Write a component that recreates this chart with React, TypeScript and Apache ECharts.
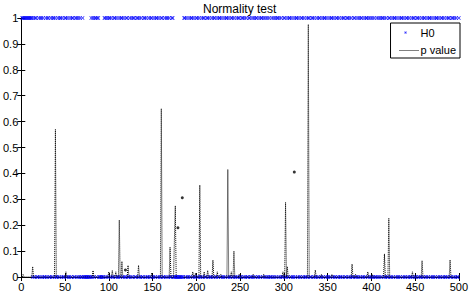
import React, { useEffect, useRef } from 'react';
import * as echarts from 'echarts';

const titleText = 'Normality test';
const xTickValues = [0, 50, 100, 150, 200, 250, 300, 350, 400, 450, 500];
const yTickValues = [0, 0.1, 0.2, 0.3, 0.4, 0.5, 0.6, 0.7, 0.8, 0.9, 1];

// p value: non-baseline samples (index -> value); all other samples sit at ~0
const pSpikeIndex = [2, 13, 39, 51, 82, 100, 104, 108, 112, 115, 119, 122, 134, 149, 160, 170, 175, 176, 179, 184, 196, 199, 204, 209, 213, 219, 224, 228, 236, 240, 243, 249, 265, 277, 299, 302, 304, 312, 328, 336, 343, 355, 378, 382, 396, 401, 415, 420, 447, 458, 490];
const pSpikeValue = [0.01, 0.04, 0.57, 0.02, 0.025, 0.02, 0.025, 0.02, 0.22, 0.06, 0.027, 0.045, 0.045, 0.015, 0.65, 0.115, 0.15, 0.275, 0.19, 0.306, 0.02, 0.015, 0.355, 0.02, 0.025, 0.065, 0.02, 0.01, 0.415, 0.02, 0.1, 0.01, 0.01, 0.01, 0.02, 0.288, 0.04, 0.405, 0.975, 0.027, 0.01, 0.01, 0.05, 0.01, 0.02, 0.01, 0.089, 0.227, 0.02, 0.063, 0.066];
// missing (NaN) samples
const pMissingIndex = [118, 120, 178, 180, 183, 185, 311, 313];

// H0 decision for samples 1..500
const h0Rows = [
  '1111111111', '1101011001', '0110100101', '1001011010', '0101101001',
  '1010010110', '0110101001', '0000000001', '0101101100', '0000110101',
  '1010011010', '0101101001', '1001010110', '0110101001', '1010010110',
  '0101101001', '1001011010', '0110000000', '0000011010', '0101101001',
  '1010010110', '0110100101', '1001011010', '0101101001', '1010010110',
  '0110101001', '1001010110', '0101101010', '1010010101', '0110101001',
  '1001011010', '0101101001', '1010010110', '0110100101', '1001011010',
  '0101101001', '1010010110', '0110101001', '1001010110', '0101101010',
  '1010010101', '0110101001', '1001011010', '0101101001', '1010010110',
  '0110100101', '1001011010', '0101101001', '1010010110', '0110101001',
];

const FONT = 'Liberation Sans, Arial, sans-serif';
const X_SYMBOL = 'path://M0,1.5L1.5,0L5,3.5L8.5,0L10,1.5L6.5,5L10,8.5L8.5,10L5,6.5L1.5,10L0,8.5L3.5,5Z';
const X_LEGEND = 'path://M0,0L0.01,0L0,0.01ZM24,24L23.99,24L24,23.99ZM9,10.5L10.5,9L12,10.5L13.5,9L15,10.5L13.5,12L15,13.5L13.5,15L12,13.5L10.5,15L9,13.5L10.5,12Z';

export default function App() {
  const ref = useRef<HTMLDivElement>(null);
  useEffect(() => {
    const chart = echarts.init(ref.current as HTMLDivElement, null, { renderer: 'svg' });
    const h0 = h0Rows.join('');
    const spike = new Map<number, number>();
    pSpikeIndex.forEach((ix, k) => spike.set(ix, pSpikeValue[k]));
    const missing = new Set(pMissingIndex);
    const pData: any[] = [];
    const dots: any[] = [];
    const h0Data: any[] = [];
    for (let i = 1; i <= h0.length; i++) {
      h0Data.push([i, Number(h0[i - 1])]);
      if (missing.has(i)) {
        pData.push([i, '-']);
      } else {
        const v = spike.has(i) ? (spike.get(i) as number) : 0;
        pData.push([i, v]);
        if (missing.has(i - 1) && missing.has(i + 1)) dots.push([i, v]);
      }
    }
    const axisCommon = {
      type: 'value' as const,
      axisLine: { show: true, lineStyle: { color: '#000', width: 1 } },
      axisTick: { show: true, inside: true, length: 4, lineStyle: { color: '#000' } },
      splitLine: { show: false },
    };
    chart.setOption({
      animation: false,
      backgroundColor: '#fff',
      title: {
        text: titleText,
        left: 203,
        top: 3,
        padding: 0,
        textStyle: { fontFamily: FONT, fontSize: 12, fontWeight: 'normal', color: '#000' },
      },
      grid: { left: 16, right: 6, top: 18, bottom: 22 },
      legend: {
        right: 11,
        top: 23,
        orient: 'vertical',
        backgroundColor: '#fff',
        borderColor: '#000',
        borderWidth: 1,
        borderRadius: 0,
        padding: [4, 4, 3, 5],
        itemGap: 6,
        itemWidth: 20,
        itemHeight: 10,
        textStyle: { fontFamily: FONT, fontSize: 11, color: '#000' },
        data: [
          { name: 'H0', icon: X_LEGEND },
          { name: 'p value', icon: 'rect', itemStyle: { color: '#fff', opacity: 0 } },
        ],
      },
      graphic: [
        {
          type: 'line',
          right: 49,
          top: 48,
          z: 100,
          shape: { x1: 0, y1: 0, x2: 20, y2: 0 },
          style: { stroke: '#000', lineWidth: 1, lineDash: [1, 1] },
        },
      ],
      xAxis: [
        {
          ...axisCommon,
          min: xTickValues[0],
          max: xTickValues[xTickValues.length - 1],
          interval: 50,
          position: 'bottom',
          axisLabel: { fontFamily: FONT, fontSize: 11, color: '#000', margin: 4 },
        },
        {
          ...axisCommon,
          min: xTickValues[0],
          max: xTickValues[xTickValues.length - 1],
          interval: 50,
          position: 'top',
          axisLabel: { show: false },
        },
      ],
      yAxis: [
        {
          ...axisCommon,
          min: yTickValues[0],
          max: yTickValues[yTickValues.length - 1],
          interval: 0.1,
          position: 'left',
          axisLabel: { fontFamily: FONT, fontSize: 11, color: '#000', margin: 3 },
        },
        {
          ...axisCommon,
          min: yTickValues[0],
          max: yTickValues[yTickValues.length - 1],
          interval: 0.1,
          position: 'right',
          axisLabel: { show: false },
        },
      ],
      series: [
        {
          name: 'H0',
          type: 'scatter',
          data: h0Data,
          symbol: X_SYMBOL,
          symbolSize: 4,
          clip: false,
          itemStyle: { color: '#0000ff' },
          z: 2,
        },
        {
          name: 'p value',
          type: 'line',
          data: pData,
          symbol: 'none',
          showSymbol: false,
          connectNulls: false,
          itemStyle: { color: '#000' },
          lineStyle: { color: '#000', width: 1, type: [1, 1] },
          z: 3,
        },
        {
          name: 'p value dots',
          type: 'scatter',
          data: dots,
          symbol: 'circle',
          symbolSize: 3,
          itemStyle: { color: '#000' },
          z: 3,
        },
      ],
    });
    return () => chart.dispose();
  }, []);
  return (
    <div
      ref={ref}
      style={{ position: 'fixed', left: 0, top: 0, width: 471, height: 299, background: '#fff' }}
    />
  );
}
